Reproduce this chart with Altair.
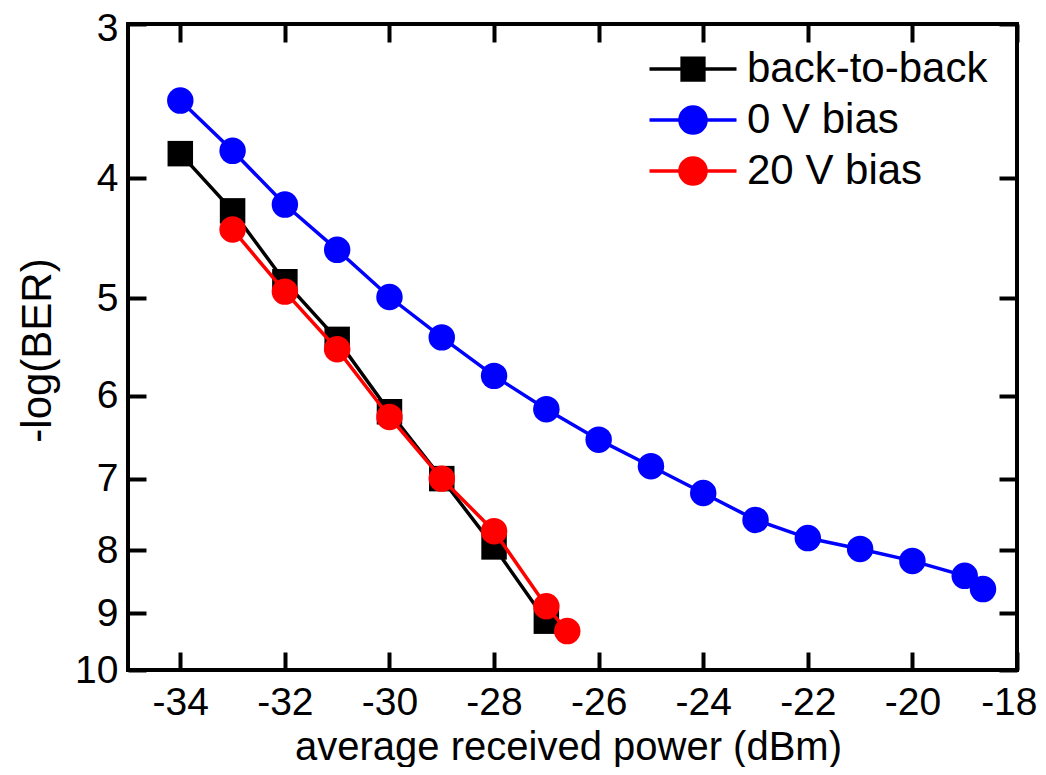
import altair as alt
import pandas as pd

# ---- data ----
series_names = ["back-to-back", "0 V bias", "20 V bias"]
series_colors = ["#000000", "#0000ff", "#ff0000"]

x_b2b = [-34, -33, -32, -31, -30, -29, -28, -27]
y_b2b = [3.82, 4.25, 4.85, 5.40, 6.18, 7.00, 7.95, 9.13]

x_0v = [-34, -33, -32, -31, -30, -29, -28, -27, -26, -25, -24, -23, -22, -21, -20, -19, -18.65]
y_0v = [3.46, 3.80, 4.20, 4.57, 4.99, 5.38, 5.78, 6.15, 6.51, 6.84, 7.19, 7.56, 7.82, 7.98, 8.16, 8.39, 8.60]

x_20v = [-33, -32, -31, -30, -29, -28, -27, -26.6]
y_20v = [4.40, 4.94, 5.50, 6.24, 7.00, 7.72, 8.88, 9.30]

x_ticks = [-34, -32, -30, -28, -26, -24, -22, -20, -18]
y_ticks = [3, 4, 5, 6, 7, 8, 9, 10]

rows = []
for name, xs, ys in zip(series_names, [x_b2b, x_0v, x_20v], [y_b2b, y_0v, y_20v]):
    for xv, yv in zip(xs, ys):
        rows.append({"series": name, "power": xv, "nlogber": yv})
df = pd.DataFrame(rows)

W, H = 889, 646
FONT = "Liberation Sans"

xscale = alt.Scale(domain=[-35, -18], nice=False, zero=False)
yscale = alt.Scale(type="log", domain=[3, 10], reverse=True, nice=False, zero=False)

base = alt.Chart(df)


def enc(xaxis=None, yaxis=None):
    return dict(
        x=alt.X("power:Q", scale=xscale, axis=xaxis),
        y=alt.Y("nlogber:Q", scale=yscale, axis=yaxis),
    )


x_label_axis = alt.Axis(
    orient="bottom", values=x_ticks, ticks=False, tickSize=0, domain=False, grid=False,
    labelFont=FONT, labelFontSize=39, labelColor="black", labelPadding=13,
    labelFlush=True, labelFlushOffset=20, labelOverlap=False,
    labelExpr="'' + datum.value",
    title="average received power (dBm)", titleFont=FONT, titleFontSize=40,
    titleFontWeight="normal", titleColor="black", titleX=440, titleY=89,
    titleAlign="center", titleBaseline="alphabetic",
)
y_label_axis = alt.Axis(
    orient="left", values=y_ticks, ticks=False, tickSize=0, domain=False, grid=False,
    labelFont=FONT, labelFontSize=39, labelColor="black", labelPadding=10,
    labelFlush=False, labelOverlap=False, labelExpr="'' + datum.value",
    labelBaseline={"condition": {"test": "datum.value == 3", "value": "top"}, "value": "middle"},
    labelOffset={"condition": {"test": "datum.value == 3", "value": -15}, "value": 0},
    title="-log(BER)", titleFont=FONT, titleFontSize=42, titleFontWeight="normal",
    titleColor="black", titleAngle=270, titleX=-78, titleY=326,
    titleAlign="center", titleBaseline="alphabetic",
)

tick_style = dict(labels=False, domain=False, grid=False, ticks=True, tickSize=18,
                  tickWidth=4, tickColor="black", title=None)

layers = []
styles = {
    "back-to-back": ("#000000", "square", 650),
    "0 V bias": ("#0000ff", "circle", 700),
    "20 V bias": ("#ff0000", "circle", 700),
}
first = True
for name in ["back-to-back", "0 V bias", "20 V bias"]:
    color, shape, size = styles[name]
    sub = base.transform_filter(alt.datum.series == name)
    line = sub.mark_line(color=color, strokeWidth=3.5).encode(
        **enc(x_label_axis if first else None, y_label_axis if first else None)
    )
    pts = sub.mark_point(shape=shape, filled=True, size=size, color=color,
                         opacity=1, strokeWidth=0).encode(**enc())
    layers += [line, pts]
    first = False

# legend: symbol = line segment through marker
leg_paths = [
    "M-3,0H3M-0.75,-0.75H0.75V0.75H-0.75Z",
    "M-3,0H3M-0.9,0A0.9,0.9,0,1,0,0.9,0A0.9,0.9,0,1,0,-0.9,0Z",
    "M-3,0H3M-0.9,0A0.9,0.9,0,1,0,0.9,0A0.9,0.9,0,1,0,-0.9,0Z",
]
leg = alt.Legend(
    title=None, orient="none", legendX=544, legendY=24, labelFont=FONT,
    labelFontSize=42, labelColor="black", labelOffset=33, symbolSize=841,
    symbolStrokeWidth=3.5, rowPadding=9, padding=0, labelLimit=0,
)
legend_layer = base.transform_filter("false").mark_point(
    filled=True, opacity=1, strokeWidth=3.5
).encode(
    **enc(),
    fill=alt.Fill("series:N", scale=alt.Scale(domain=series_names, range=series_colors), legend=leg),
    stroke=alt.Stroke("series:N", scale=alt.Scale(domain=series_names, range=series_colors), legend=leg),
    shape=alt.Shape("series:N", scale=alt.Scale(domain=series_names, range=leg_paths), legend=leg),
)

# inward ticks on all four sides
t1 = base.mark_point(opacity=0).encode(
    x=alt.X("power:Q", scale=xscale,
            axis=alt.Axis(orient="top", offset=-H, values=x_ticks, **tick_style)),
    y=alt.Y("nlogber:Q", scale=yscale,
            axis=alt.Axis(orient="right", offset=-W, values=y_ticks, **tick_style)),
)
t2 = base.mark_point(opacity=0).encode(
    x=alt.X("power:Q", scale=xscale,
            axis=alt.Axis(orient="bottom", offset=-H, values=x_ticks, **tick_style)),
    y=alt.Y("nlogber:Q", scale=yscale,
            axis=alt.Axis(orient="left", offset=-W, values=y_ticks, **tick_style)),
)

chart = alt.layer(*layers, legend_layer, t1, t2).resolve_axis(
    x="independent", y="independent"
).properties(
    width=W, height=H,
    autosize=alt.AutoSizeParams(type="none"),
    padding={"left": 120, "top": 16, "right": 21, "bottom": 97},
).configure_view(stroke="black", strokeWidth=4)

chart.save("out.html", embed_options={"renderer": "svg", "actions": False})
